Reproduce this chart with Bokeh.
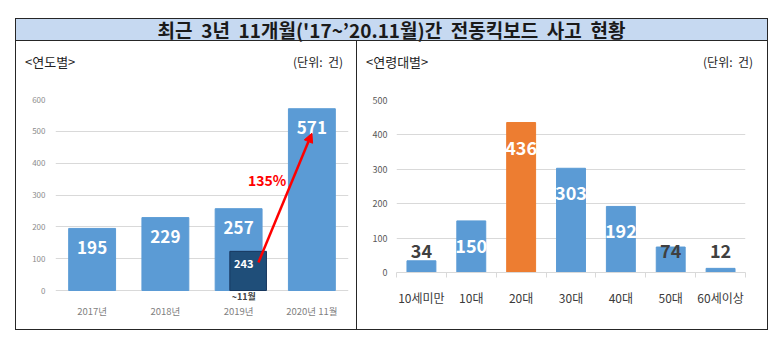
from bokeh.plotting import figure
from bokeh.models import Range1d, FixedTicker, Arrow, NormalHead, Div, ColumnDataSource
from bokeh.layouts import column, row
from bokeh.embed import file_html
from bokeh.resources import INLINE
from bokeh.core.properties import value

# ---------------- data ----------------
TITLE = "최근  3년  11개월('17~’20.11월)간  전동킥보드  사고  현황"
left_header = "&lt;연도별&gt;"
right_header = "&lt;연령대별&gt;"
unit_label = "(단위:  건)"

year_cats = ["2017년", "2018년", "2019년", "2020년 11월"]
year_vals = [195, 229, 257, 571]
year_ticks = [0, 100, 200, 300, 400, 500, 600]

sub_year = "2019년"
sub_value = 243          # 2019 Jan~Nov count (shown in dark box)
sub_period = "~11월"
growth_label = "135%"

age_cats = ["10세미만", "10대", "20대", "30대", "40대", "50대", "60세이상"]
age_vals = [34, 150, 436, 303, 192, 74, 12]
age_ticks = [0, 100, 200, 300, 400, 500]
highlight_age = "20대"

# ---------------- style ----------------
FONT = "Noto Sans CJK KR"
BLUE = "#5B9BD5"
ORANGE = "#ED7D31"
DARK = "#1F4E79"
GRID = "#D9D9D9"
BORDER = "#262626"

BOX_TOP = 123  # visual height of the dark inset box (data units)


def line_div(w, h):
    return Div(text="", width=w, height=h, margin=0,
               styles={"background-color": BORDER})


def header_div(w, left, right, pad_r):
    html = (f'<div style="display:flex;justify-content:space-between;box-sizing:border-box;'
            f'width:{w}px;padding:13px {pad_r}px 0 9px;line-height:16px;'
            f'font-family:\'{FONT}\';color:#222;white-space:pre;">'
            f'<span style="font-size:13px">{left}</span>'
            f'<span style="font-size:12px">{right}</span></div>')
    return Div(text=html, width=w, height=40, margin=0)


# ---------------- left chart ----------------
p1 = figure(width=340, height=248, output_backend="svg", toolbar_location=None,
            x_range=Range1d(0, len(year_cats)), y_range=Range1d(-31.4, 600),
            min_border_left=39, min_border_right=8, min_border_top=18, min_border_bottom=29)
p1.outline_line_color = None

yx = [i + 0.5 for i in range(len(year_cats))]
p1.vbar(x=yx, top=year_vals, width=0.64, color=BLUE)

si = year_cats.index(sub_year) + 0.5
p1.vbar(x=[si + 0.13], top=[BOX_TOP], width=0.5, fill_color=DARK, line_color="#17375E")

src1 = ColumnDataSource(dict(x=yx, y=year_vals, t=[str(v) for v in year_vals]))
p1.text(x="x", y="y", text="t", source=src1, y_offset=19, text_align="center",
        text_baseline="middle", text_color="white", text_font=value(FONT),
        text_font_style="bold", text_font_size="17px")
p1.text(x=[si + 0.07], y=[BOX_TOP], text=[str(sub_value)], y_offset=12, text_align="center",
        text_baseline="middle", text_color="white", text_font=value(FONT),
        text_font_style="bold", text_font_size="11px")
p1.text(x=[si + 0.07], y=[0], text=[sub_period], y_offset=6, text_align="center",
        text_baseline="middle", text_color="#404040", text_font=value(FONT),
        text_font_style="bold", text_font_size="9px")

ei = year_cats.index("2020년 11월") + 0.5
p1.add_layout(Arrow(end=NormalHead(size=9, fill_color="#FF0000", line_color="#FF0000"),
                    x_start=si + 0.27, y_start=88, x_end=ei, y_end=494,
                    line_color="#FF0000", line_width=2.5))
p1.text(x=[si + 0.39], y=[346], text=[growth_label], text_align="center",
        text_baseline="middle", text_color="#FF0000", text_font=value(FONT),
        text_font_style="bold", text_font_size="14px")

p1.xaxis.ticker = FixedTicker(ticks=yx)
p1.xaxis.major_label_overrides = {x: c for x, c in zip(yx, year_cats)}
p1.yaxis.ticker = FixedTicker(ticks=year_ticks)
for ax in (p1.xaxis, p1.yaxis):
    ax.axis_line_color = None
    ax.major_tick_line_color = None
    ax.minor_tick_line_color = None
    ax.major_tick_out = 0
    ax.major_tick_in = 0
    ax.minor_tick_out = 0
    ax.major_label_text_font = FONT
p1.xaxis.major_label_text_font_size = "9.5px"
p1.xaxis.major_label_text_color = "#7F7F7F"
p1.xaxis.major_label_standoff = 3
p1.yaxis.major_label_text_font_size = "8px"
p1.yaxis.major_label_text_color = "#8C8C8C"
p1.yaxis.major_label_standoff = 10
p1.xgrid.grid_line_color = None
p1.ygrid.grid_line_color = GRID
p1.ygrid.ticker = FixedTicker(ticks=year_ticks)

# ---------------- right chart ----------------
p2 = figure(width=410, height=248, output_backend="svg", toolbar_location=None,
            x_range=Range1d(0, len(age_cats)), y_range=Range1d(0, 500),
            min_border_left=39, min_border_right=22, min_border_top=19, min_border_bottom=57)
p2.outline_line_color = None

ax_ = [i + 0.5 for i in range(len(age_cats))]
colors = [ORANGE if c == highlight_age else BLUE for c in age_cats]
p2.vbar(x=ax_, top=age_vals, width=0.58, color=colors)

inside = [v >= 100 for v in age_vals]
src2 = ColumnDataSource(dict(
    x=ax_,
    y=[v if ins else 0 for v, ins in zip(age_vals, inside)],
    off=[25 if ins else -22 for ins in inside],
    col=["white" if ins else "#404040" for ins in inside],
    t=[str(v) for v in age_vals]))
p2.text(x="x", y="y", text="t", source=src2, y_offset="off", text_align="center",
        text_baseline="middle", text_color="col", text_font=value(FONT),
        text_font_style="bold", text_font_size="18px")

p2.xaxis.ticker = FixedTicker(ticks=ax_, minor_ticks=list(range(len(age_cats) + 1)))
p2.xaxis.major_label_overrides = {x: c for x, c in zip(ax_, age_cats)}
p2.xaxis.axis_line_color = GRID
p2.xaxis.major_tick_line_color = None
p2.xaxis.major_tick_out = 0
p2.xaxis.major_tick_in = 0
p2.xaxis.minor_tick_line_color = GRID
p2.xaxis.minor_tick_out = 5
p2.xaxis.minor_tick_in = 0
p2.xaxis.major_label_text_font = FONT
p2.xaxis.major_label_text_font_size = "12px"
p2.xaxis.major_label_text_color = "#3A3A3A"
p2.xaxis.major_label_standoff = 11
p2.yaxis.ticker = FixedTicker(ticks=age_ticks)
p2.yaxis.axis_line_color = None
p2.yaxis.major_tick_line_color = None
p2.yaxis.minor_tick_line_color = None
p2.yaxis.major_tick_out = 0
p2.yaxis.major_tick_in = 0
p2.yaxis.minor_tick_out = 0
p2.yaxis.major_label_text_font = FONT
p2.yaxis.major_label_text_font_size = "9px"
p2.yaxis.major_label_text_color = "#595959"
p2.yaxis.major_label_standoff = 9
p2.xgrid.grid_line_color = None
p2.ygrid.grid_line_color = GRID
p2.ygrid.ticker = FixedTicker(ticks=age_ticks)

# ---------------- frame ----------------
title = Div(text=f'<div style="white-space:pre;text-align:center;width:751px;'
                 f'font-family:\'{FONT}\';font-weight:bold;font-size:19px;line-height:21px;'
                 f'color:#1a1a1a;">{TITLE}</div>',
            width=751, height=21, margin=0, styles={"background-color": "#C6D9F1"})

left_cell = column(header_div(340, left_header, unit_label, 13), p1, spacing=0, margin=0)
right_cell = column(header_div(410, right_header, unit_label, 14), p2, spacing=0, margin=0)

root = column(
    line_div(753, 1),
    row(line_div(1, 21), title, line_div(1, 21), spacing=0, margin=0),
    line_div(753, 1),
    row(line_div(1, 288), left_cell, line_div(1, 288), right_cell, line_div(1, 288),
        spacing=0, margin=0),
    line_div(753, 1),
    spacing=0, margin=(18, 0, 0, 15))

open("out.html", "w").write(file_html(root, INLINE))
